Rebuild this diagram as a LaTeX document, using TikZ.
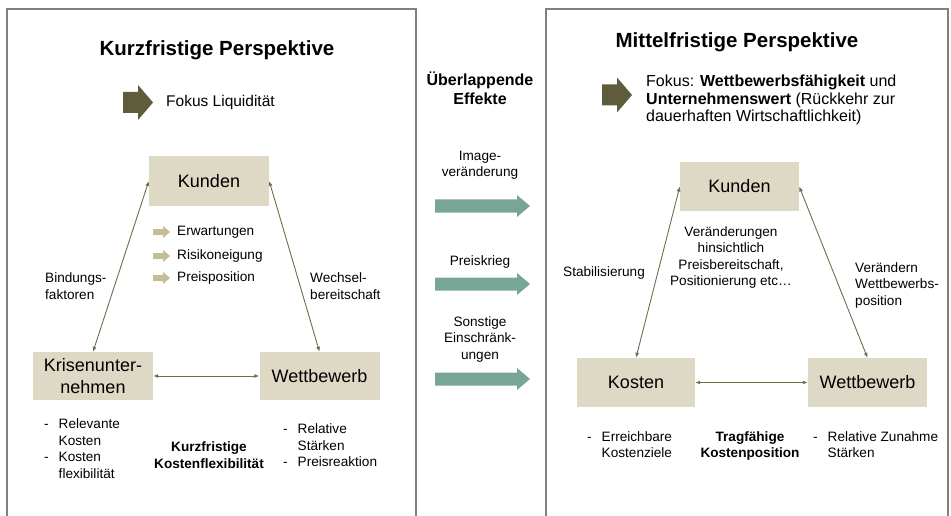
\documentclass[tikz,border=0pt]{standalone}
\usepackage{fontspec}
\setmainfont{Liberation Sans}
\usepackage{xcolor}
\usepackage{tikz}
\usetikzlibrary{arrows.meta}
\definecolor{kastenbeige}{RGB}{221,217,196}
\definecolor{olivdunkel}{RGB}{94,92,58}
\definecolor{olivhell}{RGB}{196,189,151}
\definecolor{pfeilolive}{RGB}{112,108,76}
\definecolor{effektgruen}{RGB}{120,166,150}
\definecolor{rahmengrau}{RGB}{128,128,128}

\begin{document}
\begin{tikzpicture}[x=1pt,y=1pt,
    kasten/.style={fill=kastenbeige, minimum width=120pt, minimum height=49pt, inner sep=0pt, align=center, font=\fontsize{18}{22}\selectfont},
    titel/.style={inner sep=0pt, font=\bfseries\fontsize{20.5}{24}\selectfont},
    txt/.style={inner sep=0pt, align=left, font=\fontsize{13.6}{16.5}\selectfont},
    fett/.style={txt, align=center, font=\bfseries\fontsize{13.6}{16.5}\selectfont},
    verbindung/.style={draw=pfeilolive, line width=0.9pt, {Latex[length=5pt,width=4pt]}-{Latex[length=5pt,width=4pt]}}]
    \useasboundingbox (0,0) rectangle (951,-516);

    % Rahmen der beiden Perspektiven
    \draw[rahmengrau, line width=1.5pt] (7,-9) rectangle (416,-530);
    \draw[rahmengrau, line width=1.5pt] (546,-9) rectangle (948,-530);

    % Fokus-Pfeile
    \foreach \x/\y in {123/102.5, 602/95}
        \fill[olivdunkel, shift={(\x,-\y)}] (0,-10.5) -- (15,-10.5) -- (15,-17.5) -- (30,0) -- (15,17.5) -- (15,10.5) -- (0,10.5) -- cycle;

    % Kurzfristige Perspektive
    \node[titel] (titelK) at (217,-50) {Kurzfristige Perspektive};
    \node[inner sep=0pt, anchor=west, font=\fontsize{15.5}{18}\selectfont] (fokusK) at (166,-102) {Fokus Liquidität};

    \node[kasten] (kundenK) at (209,-181) {Kunden};
    \node[kasten, minimum height=48pt] (krise) at (93,-376) {Krisenunter-\\nehmen};
    \node[kasten, minimum height=48pt] (wettK) at (319.5,-376) {Wettbewerb};

    \foreach \y/\t in {232/Erwartungen, 256/Risikoneigung, 278/Preisposition} {
        \fill[olivhell, shift={(153,-\y)}] (0,-3) -- (10,-3) -- (10,-6) -- (17,0) -- (10,6) -- (10,3) -- (0,3) -- cycle;
        \node[txt, anchor=west] (punkt\y) at (177,-\y) {\t};
    }

    \draw[verbindung] (kundenK.west) -- (krise.north);
    \draw[verbindung] (kundenK.east) -- (wettK.north);
    \draw[verbindung] (krise.east) -- (wettK.west);

    \node[txt, anchor=west] (bindung) at (45,-286) {Bindungs-\\faktoren};
    \node[txt, anchor=west] (wechsel) at (310,-286) {Wechsel-\\bereitschaft};

    \node[txt, anchor=west] (kostenK) at (44,-450) {\begin{tabular}{@{}l@{\hspace{10pt}}l@{}}- & Relevante\\ & Kosten\\- & Kosten\\ & flexibilität\end{tabular}};
    \node[fett] (flexK) at (209,-455) {Kurzfristige\\Kostenflexibilität};
    \node[txt, anchor=west] (staerkeK) at (283,-447) {\begin{tabular}{@{}l@{\hspace{10pt}}l@{}}- & Relative\\ & Stärken\\- & Preisreaktion\end{tabular}};

    % Ueberlappende Effekte
    \node[inner sep=0pt, align=center, font=\bfseries\fontsize{16}{19.5}\selectfont] (effekte) at (480,-88) {Überlappende\\Effekte};
    \foreach \y in {206,284,379}
        \fill[effektgruen, shift={(435,-\y)}] (0,-6.5) -- (82,-6.5) -- (82,-11) -- (95,0) -- (82,11) -- (82,6.5) -- (0,6.5) -- cycle;
    \node[txt, align=center] (image) at (480,-165) {Image-\\veränderung};
    \node[txt, align=center] (preiskrieg) at (480,-262) {Preiskrieg};
    \node[txt, align=center] (sonstige) at (480,-339) {Sonstige\\Einschränk-\\ungen};

    % Mittelfristige Perspektive
    \node[titel] (titelM) at (737,-42) {Mittelfristige Perspektive};
    \node[inner sep=0pt, anchor=west, align=left, font=\fontsize{16}{17.5}\selectfont] (fokusM) at (646,-100)
        {Fokus: \textbf{Wettbewerbsfähigkeit} und\\\textbf{Unternehmenswert} (Rückkehr zur\\dauerhaften Wirtschaftlichkeit)};

    \node[kasten, minimum width=119pt] (kundenM) at (739.5,-186.5) {Kunden};
    \node[kasten, minimum width=118pt] (kostenM) at (636,-382.5) {Kosten};
    \node[kasten, minimum width=119pt] (wettM) at (867.5,-382.5) {Wettbewerb};

    \draw[verbindung] (kundenM.west) -- (kostenM.north);
    \draw[verbindung] (kundenM.east) -- (wettM.north);
    \draw[verbindung] (kostenM.east) -- (wettM.west);

    \node[txt, align=center, font=\fontsize{13.6}{16.3}\selectfont] (veraenderung) at (731,-257.5) {Veränderungen\\hinsichtlich\\Preisbereitschaft,\\Positionierung etc\dots};
    \node[txt, anchor=west] (stabil) at (563,-273) {Stabilisierung};
    \node[txt, anchor=west] (position) at (855,-285) {Verändern\\Wettbewerbs-\\position};

    \node[txt, anchor=west] (kostenziel) at (587,-446) {\begin{tabular}{@{}l@{\hspace{10pt}}l@{}}- & Erreichbare\\ & Kostenziele\end{tabular}};
    \node[fett] (tragfaehig) at (750,-446) {Tragfähige\\Kostenposition};
    \node[txt, anchor=west] (zunahme) at (813,-446) {\begin{tabular}{@{}l@{\hspace{10pt}}l@{}}- & Relative Zunahme\\ & Stärken\end{tabular}};
\end{tikzpicture}
\end{document}
